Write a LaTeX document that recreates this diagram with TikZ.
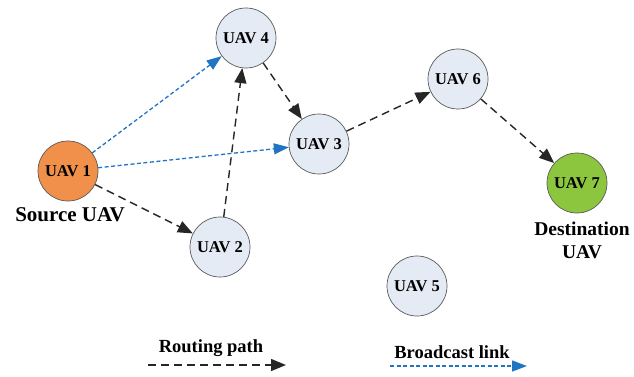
\documentclass[tikz,border=0pt]{standalone}
\usepackage{fontspec}
\setmainfont{Liberation Serif}
\usetikzlibrary{arrows.meta}
\definecolor{nodefill}{HTML}{E4EBF5}
\definecolor{srcfill}{HTML}{F0904A}
\definecolor{dstfill}{HTML}{8CC63F}
\definecolor{bcast}{HTML}{1F74C4}
\tikzset{
  uav/.style={circle, draw=gray!70!black, line width=0.7pt, fill=nodefill, minimum size=60pt, inner sep=0pt, font=\bfseries\fontsize{16.5}{18}\selectfont},
  lbl/.style={font=\bfseries\fontsize{21}{22}\selectfont, inner sep=0pt, align=center},
  leg/.style={font=\bfseries\fontsize{18.5}{20}\selectfont, inner sep=0pt},
  route/.style={draw=black!85, line width=1.4pt, dash pattern=on 8pt off 5pt, -{Triangle[length=15pt,width=12pt]}},
  bcastlink/.style={draw=bcast, line width=1.3pt, dash pattern=on 4pt off 2.5pt, -{Triangle[length=15pt,width=11pt]}}
}
\begin{document}
\begin{tikzpicture}[x=1pt,y=-1pt]
\useasboundingbox (0,0) rectangle (634,377);
\node[uav, fill=srcfill] (u1) at (68,171) {UAV 1};
\node[uav] (u4) at (246,38) {UAV 4};
\node[uav] (u3) at (319,144) {UAV 3};
\node[uav] (u6) at (458,79) {UAV 6};
\node[uav, fill=dstfill] (u7) at (577,183) {UAV 7};
\node[uav] (u2) at (220,247) {UAV 2};
\node[uav] (u5) at (417,286) {UAV 5};
\node[lbl] (src) at (70,215) {Source UAV};
\node[lbl, font=\bfseries\fontsize{19.5}{21}\selectfont] (dst) at (582,240) {Destination\\[2pt]UAV};
\draw[route] (u1) -- (u2);
\draw[route] (u2) -- (u4);
\draw[route] (u4) -- (u3);
\draw[route] (u3) -- (u6);
\draw[route] (u6) -- (u7);
\draw[bcastlink] (u1) -- (u4);
\draw[bcastlink] (u1) -- (u3);
\node[leg] (lr) at (211,348) {Routing path};
\coordinate (r0) at (148,365);
\coordinate (r1) at (286,365);
\draw[route] (r0) -- (r1);
\node[leg] (lb) at (452,352) {Broadcast link};
\coordinate (b0) at (390,366);
\coordinate (b1) at (527,366);
\draw[bcastlink] (b0) -- (b1);
\end{tikzpicture}
\end{document}
